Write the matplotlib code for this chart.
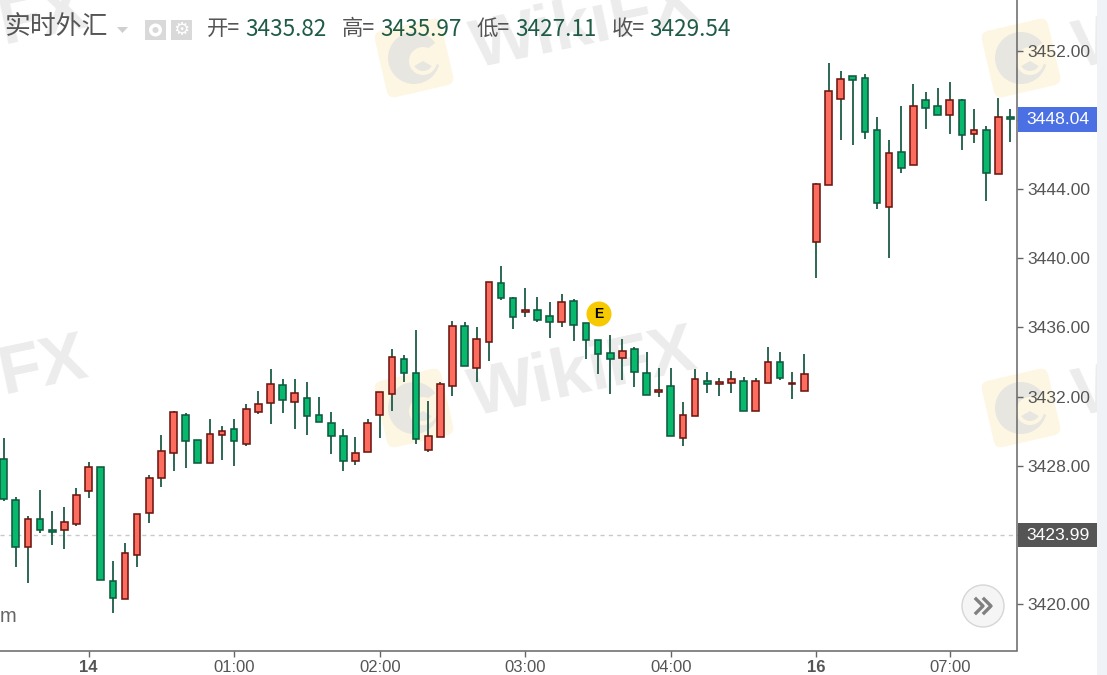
import matplotlib
matplotlib.use("Agg")
import matplotlib.pyplot as plt
import numpy as np
from matplotlib.patches import Circle, FancyBboxPatch, Rectangle, Wedge
from matplotlib.transforms import Affine2D

# Bars are numbered from the "14" tick, 5 minutes each
bar_index = np.arange(-7, 77)

opens = [3428.39, 3426.02, 3423.28, 3424.94, 3424.28, 3424.26, 3424.63,
         3426.56, 3427.93, 3421.31, 3420.29, 3422.84, 3425.29, 3427.27, 3428.72, 3430.92, 3429.47, 3428.18,
         3429.80, 3430.11, 3429.26, 3431.09, 3431.63, 3432.66, 3431.71, 3431.92, 3430.92, 3430.46, 3429.74,
         3428.28, 3428.82, 3430.92, 3432.17, 3434.20, 3433.37, 3428.91, 3429.65, 3432.62, 3436.11, 3433.64,
         3435.16, 3438.56, 3437.73, 3436.88, 3437.00, 3436.65, 3436.34, 3437.56, 3436.28, 3435.28, 3434.55,
         3434.26, 3434.74, 3433.37, 3432.25, 3432.64, 3429.63, 3430.90, 3432.93, 3432.71, 3432.79, 3432.93,
         3431.17, 3432.81, 3434.01, 3432.71, 3432.35, 3440.97, 3444.23, 3449.23, 3450.54, 3450.44, 3447.45,
         3442.98, 3446.18, 3445.41, 3449.17, 3448.80, 3448.32, 3449.17, 3447.22, 3447.45, 3444.87, 3448.16]
highs = [3429.59, 3426.21, 3425.11, 3426.60, 3425.40, 3425.60, 3426.69,
         3428.20, 3427.93, 3422.51, 3423.51, 3425.21, 3427.49, 3429.78, 3431.19, 3431.03, 3429.47, 3430.69,
         3430.32, 3430.69, 3431.57, 3432.31, 3433.58, 3433.04, 3433.04, 3432.85, 3431.96, 3431.13, 3430.11,
         3429.68, 3430.69, 3432.29, 3434.76, 3434.39, 3435.86, 3431.77, 3432.83, 3436.40, 3436.32, 3436.03,
         3438.66, 3439.58, 3437.75, 3438.31, 3437.75, 3437.50, 3437.94, 3437.65, 3436.28, 3435.30, 3435.59,
         3435.32, 3434.86, 3434.59, 3433.68, 3433.68, 3431.67, 3433.58, 3433.41, 3433.06, 3433.49, 3433.12,
         3433.06, 3434.86, 3434.59, 3433.41, 3434.49, 3444.38, 3451.29, 3450.83, 3450.54, 3450.67, 3448.18,
         3446.85, 3448.82, 3450.09, 3449.65, 3449.84, 3450.19, 3449.24, 3448.65, 3447.64, 3449.28, 3448.65]
lows = [3425.98, 3422.16, 3421.20, 3424.09, 3423.43, 3423.16, 3424.53,
        3426.15, 3421.39, 3419.46, 3420.29, 3422.16, 3424.71, 3426.79, 3427.72, 3427.89, 3428.18, 3428.18,
        3428.33, 3427.99, 3429.16, 3431.00, 3430.42, 3431.07, 3430.15, 3429.78, 3430.55, 3428.70, 3427.72,
        3428.06, 3428.82, 3429.63, 3431.15, 3432.87, 3429.24, 3428.80, 3429.65, 3432.06, 3433.79, 3432.87,
        3434.05, 3437.61, 3435.94, 3436.59, 3436.32, 3435.42, 3436.05, 3435.24, 3434.16, 3433.31, 3432.16,
        3432.97, 3432.58, 3432.10, 3431.96, 3429.74, 3429.17, 3430.90, 3432.23, 3432.06, 3432.23, 3431.17,
        3431.17, 3432.81, 3432.98, 3431.88, 3432.35, 3438.87, 3444.23, 3446.85, 3446.58, 3446.93, 3442.86,
        3440.04, 3444.94, 3445.41, 3447.47, 3448.32, 3447.20, 3446.29, 3446.66, 3443.30, 3444.87, 3446.76]
closes = [3426.08, 3423.28, 3424.94, 3424.28, 3424.19, 3424.75, 3426.29,
          3427.93, 3421.39, 3420.37, 3422.93, 3425.21, 3427.29, 3428.84, 3431.11, 3429.45, 3428.18, 3429.84,
          3430.03, 3429.45, 3431.29, 3431.56, 3432.73, 3431.81, 3432.19, 3430.90, 3430.55, 3429.72, 3428.28,
          3428.74, 3430.46, 3432.29, 3434.30, 3433.35, 3429.53, 3429.74, 3432.75, 3436.11, 3433.79, 3435.36,
          3438.66, 3437.71, 3436.63, 3437.02, 3436.44, 3436.34, 3437.46, 3436.17, 3435.26, 3434.45, 3434.16,
          3434.66, 3433.45, 3432.10, 3432.39, 3429.74, 3430.92, 3433.02, 3432.71, 3432.85, 3433.02, 3431.17,
          3432.93, 3434.03, 3433.08, 3432.77, 3433.29, 3444.29, 3449.71, 3450.36, 3450.33, 3447.34, 3443.23,
          3446.08, 3445.23, 3448.82, 3448.69, 3448.32, 3449.17, 3447.14, 3447.45, 3444.96, 3448.16, 3448.05]

y_ticks = [3420, 3424, 3428, 3432, 3436, 3440, 3444, 3448, 3452]
x_tick_bars = [0, 12, 24, 36, 48, 60, 71]
x_tick_labels = ["14", "01:00", "02:00", "03:00", "04:00", "16", "07:00"]
header_pairs = [("开=", "3435.82", 207, 245), ("高=", "3435.97", 342, 380),
                ("低=", "3427.11", 477, 515), ("收=", "3429.54", 612, 649)]
last_price = 3448.04
prev_close = 3423.99

W, H = 1107, 675
CJK = ["Noto Sans CJK SC", "DejaVu Sans"]
plt.rcParams["font.family"] = ["Liberation Sans", "DejaVu Sans"]

fig = plt.figure(figsize=(W / 100, H / 100), dpi=100, facecolor="white")

# Pixel canvas under the chart, for the watermark
bg = fig.add_axes([0, 0, 1, 1], zorder=0)
bg.set_xlim(0, W)
bg.set_ylim(H, 0)
bg.axis("off")
bg.add_patch(Rectangle((1097, 0), 10, H, color="#eff3f7", lw=0, zorder=5))


def logo(cx, cy):
    """Pale yellow badge with a grey bird head"""
    rot = Affine2D().rotate_deg_around(cx, cy, -13) + bg.transData
    yellow = "#fdf6e2"
    bg.add_patch(FancyBboxPatch((cx - 29, cy - 29), 58, 58, boxstyle="round,pad=5,rounding_size=8",
                                fc=yellow, ec="none", transform=rot))
    bg.add_patch(Circle((cx, cy), 26, fc="#e8e6e1", ec="none"))
    bg.add_patch(Wedge((cx, cy), 27, 325, 15, fc=yellow, ec="none"))
    bg.add_patch(Circle((cx + 9, cy + 3), 14, fc=yellow, ec="none"))
    bg.add_patch(Wedge((cx + 9, cy + 3), 10, 30, 150, fc="#e8e6e1", ec="none"))


def mark(x, y, s="WikiFX", size=50):
    bg.text(x, y, s, fontsize=size, fontweight="bold", color="#ececec", rotation=12,
            rotation_mode="anchor", ha="left", va="center", family=["Liberation Sans"])


for cx, cy in [(414, 58), (1021, 58), (414, 408), (1021, 408)]:
    logo(cx, cy)
for x, y in [(472, 50), (470, 398)]:
    mark(x, y)
for x, y in [(1075, 50), (1075, 398)]:
    mark(x, y, "W")
mark(0, 376, "FX")
mark(0, 26, "FX")

# Candles
ax = fig.add_axes([0, (H - 650.5) / H, 1017 / W, 650.5 / H], zorder=1)
ax.patch.set_alpha(0)
ax.set_xlim(-7.304, 76.54)
ax.set_ylim(3417.31, 3454.95)

opens = np.array(opens)
closes = np.array(closes)
up = closes >= opens
body_low = np.minimum(opens, closes)
body_high = np.maximum(opens, closes)

ax.axhline(prev_close, color="#c9c9c9", lw=1, ls=(0, (3, 3)), zorder=1)
ax.vlines(bar_index, lows, highs, color="#1d5c47", lw=1.3, zorder=2)
ax.bar(bar_index[up], (body_high - body_low)[up], bottom=body_low[up], width=0.55,
       color="#fc6c5f", edgecolor="#6e1610", lw=1.15, zorder=3)
ax.bar(bar_index[~up], (body_high - body_low)[~up], bottom=body_low[~up], width=0.55,
       color="#08b96d", edgecolor="#0f5a40", lw=1.15, zorder=3)

for side in ["top", "left"]:
    ax.spines[side].set_visible(False)
for side in ["right", "bottom"]:
    ax.spines[side].set_color("#666666")
    ax.spines[side].set_linewidth(1.1)

ax.yaxis.tick_right()
ax.set_yticks(y_ticks)
ax.set_yticklabels(["%.2f" % v for v in y_ticks])
ax.set_xticks(x_tick_bars)
ax.set_xticklabels(x_tick_labels)
ax.tick_params(axis="y", length=4, width=1, color="#666666", labelcolor="#555555", labelsize=12.6, pad=3.5)
ax.tick_params(axis="x", length=4, width=1, color="#666666", labelcolor="#555555", labelsize=12, pad=2.5)
for lab in ax.get_xticklabels():
    if lab.get_text() in ("14", "16"):
        lab.set_fontweight("bold")

# Overlay in pixels: header, badges, button
top = fig.add_axes([0, 0, 1, 1], zorder=2)
top.set_xlim(0, W)
top.set_ylim(H, 0)
top.axis("off")


def y_px(price):
    return 604 - (price - 3420) * 17.28


top.text(4, 27, "实时外汇", fontsize=18.6, color="#555555", va="center", family=CJK)
top.fill([117, 128, 122.5], [27, 27, 33], color="#cfcfcf", lw=0)
for x0, glyph in [(145, None), (171, "\u2699")]:
    top.add_patch(Rectangle((x0, 20), 21, 20, color="#d9d9d9", lw=0))
    if glyph:
        top.text(x0 + 10.5, 30, glyph, fontsize=13, color="white", ha="center", va="center",
                 family=["DejaVu Sans"])
    else:
        top.add_patch(Circle((x0 + 10.5, 30), 6.5, fc="white", ec="none"))
        top.add_patch(Circle((x0 + 10.5, 30), 3, fc="#d9d9d9", ec="none"))
for lab, val, x_lab, x_val in header_pairs:
    top.text(x_lab, 29, lab, fontsize=15.4, color="#555555", va="center", family=CJK)
    top.text(x_val, 29, val, fontsize=16.2, color="#1f5b45", va="center", family=CJK)

for price, color, y0, y1 in [(last_price, "#4a70e4", 107, 132), (prev_close, "#555555", 523, 547)]:
    top.add_patch(Rectangle((1017.5, y0), 79.5, y1 - y0, color=color, lw=0))
    top.text(1058, y_px(price) + 0.5, "%.2f" % price, color="white", fontsize=12.6, ha="center", va="center")

top.add_patch(Circle((599, 314), 12.5, fc="#f6c900", ec="none"))
top.text(599, 314.5, "E", fontsize=10, fontweight="bold", color="black", ha="center", va="center")

top.add_patch(Circle((983, 606), 21, fc="#f5f5f5", ec="#d6d6d6", lw=1))
for dx in [0, 8]:
    top.plot([976 + dx, 983 + dx, 976 + dx], [599, 606, 613], color="#808080", lw=2.4)

top.text(0, 616, "m", fontsize=14.5, color="#666666", va="center")

fig.savefig("out.png", dpi=100)
